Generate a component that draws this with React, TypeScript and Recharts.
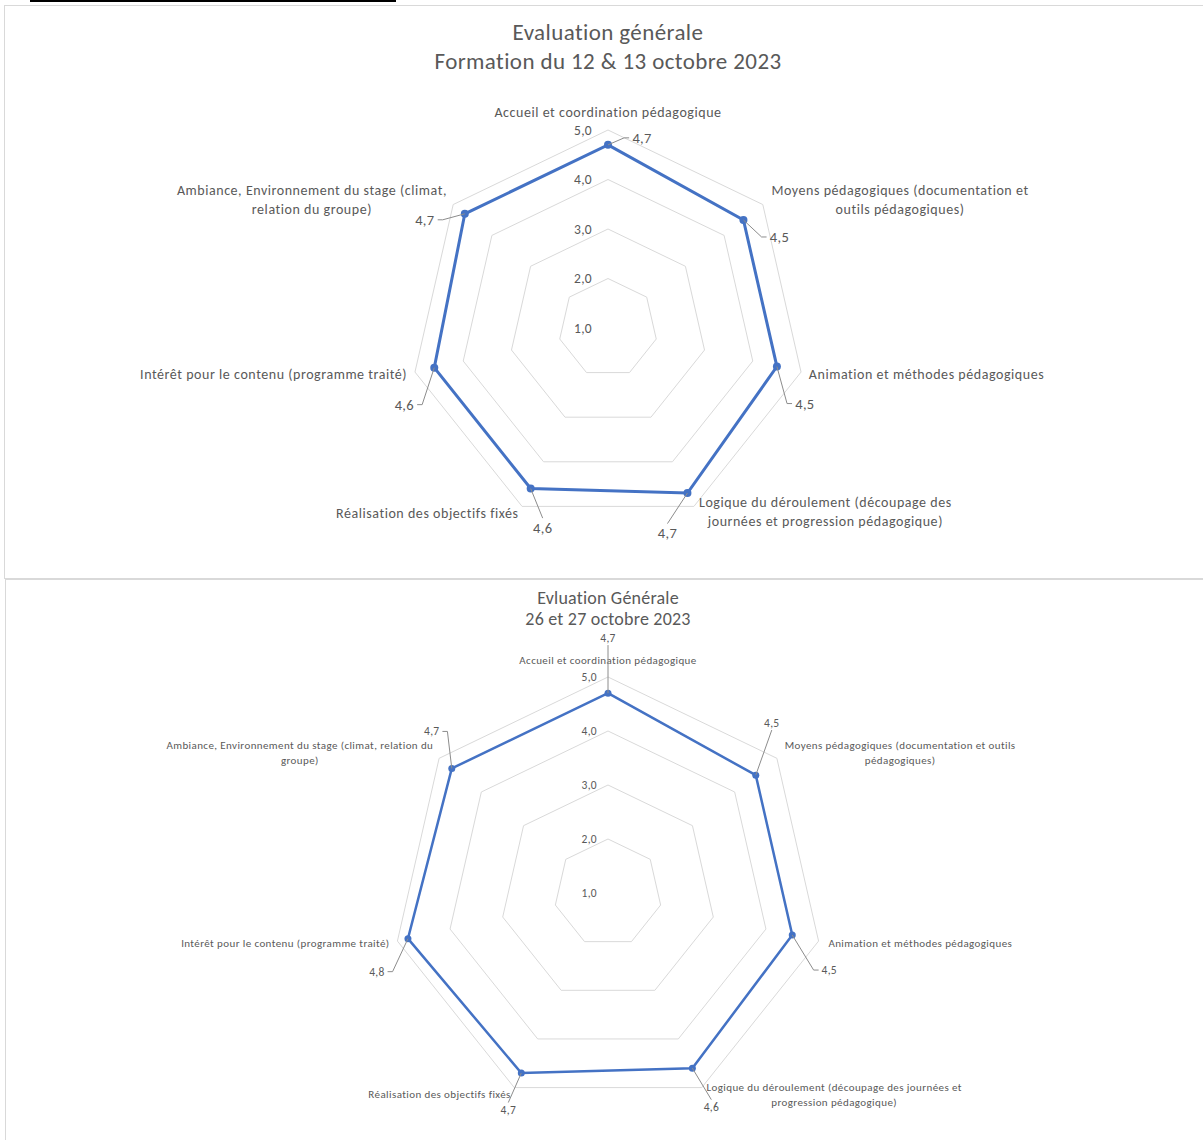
import React from 'react';
import { RadarChart, Radar, PolarGrid, PolarAngleAxis, PolarRadiusAxis } from 'recharts';

// criteria evaluated (same for both sessions)
const categories = [
  'Accueil et coordination pédagogique',
  'Moyens pédagogiques (documentation et outils pédagogiques)',
  'Animation et méthodes pédagogiques',
  'Logique du déroulement (découpage des journées et progression pédagogique)',
  'Réalisation des objectifs fixés',
  'Intérêt pour le contenu (programme traité)',
  'Ambiance, Environnement du stage (climat, relation du groupe)',
];

const scoresOct12 = [4.7, 4.5, 4.5, 4.7, 4.6, 4.6, 4.7];
const scoresOct26 = [4.7, 4.5, 4.5, 4.6, 4.7, 4.8, 4.7];

const radiusDomain = [1, 5];
const radiusTickCount = 5;

// wrapped tick labels, as Excel wraps them
const labelLinesOct12 = [
  ['Accueil et coordination pédagogique'],
  ['Moyens pédagogiques (documentation et', 'outils pédagogiques)'],
  ['Animation et méthodes pédagogiques'],
  ['Logique du déroulement (découpage des', 'journées et progression pédagogique)'],
  ['Réalisation des objectifs fixés'],
  ['Intérêt pour le contenu (programme traité)'],
  ['Ambiance, Environnement du stage (climat,', 'relation du groupe)'],
];

const labelLinesOct26 = [
  ['Accueil et coordination pédagogique'],
  ['Moyens pédagogiques (documentation et outils', 'pédagogiques)'],
  ['Animation et méthodes pédagogiques'],
  ['Logique du déroulement (découpage des journées et', 'progression pédagogique)'],
  ['Réalisation des objectifs fixés'],
  ['Intérêt pour le contenu (programme traité)'],
  ['Ambiance, Environnement du stage (climat, relation du', 'groupe)'],
];

const FONT = 'Calibri, Carlito, "Liberation Sans", Arial, sans-serif';
const GREY = '#595959';
const BLUE = '#4472C4';

const fmt = (v: number) => v.toFixed(1).replace('.', ',');

type Anchor = 'start' | 'middle' | 'end';
type Mode = 'right' | 'left' | 'above' | 'below';

interface ChartConfig {
  top: number;
  height: number;
  cx: number;
  cy: number;
  radius: number;
  titles: string[];
  titleSize: number;
  titleSpacing: number;
  titleTop: number;
  titleLineHeight: number;
  values: number[];
  lines: string[][];
  catFont: number;
  catSpacing: number;
  catLineHeight: number;
  catOffsets: [number, number, Anchor][];
  tickFont: number;
  tickGap: number;
  valueFont: number;
  valueOffsets: [number, number, Mode][];
  strokeWidth: number;
  dotR: number;
}

const oct12: ChartConfig = {
  top: 0,
  height: 578,
  cx: 608,
  cy: 328,
  radius: 198,
  titles: ['Evaluation générale', 'Formation du 12 & 13 octobre 2023'],
  titleSize: 23,
  titleSpacing: 0.4,
  titleTop: 18,
  titleLineHeight: 29,
  values: scoresOct12,
  lines: labelLinesOct12,
  catFont: 14,
  catSpacing: 0.55,
  catLineHeight: 19,
  catOffsets: [
    [0, -10, 'middle'],
    [131, -9, 'middle'],
    [0, 0, 'start'],
    [128, -11, 'middle'],
    [0, 0, 'end'],
    [0, 0, 'end'],
    [-135, -9, 'middle'],
  ],
  tickFont: 13.5,
  tickGap: 16,
  valueFont: 14.5,
  valueOffsets: [
    [34, -7, 'right'],
    [36, 17, 'right'],
    [28, 37, 'right'],
    [-20, 40, 'below'],
    [12, 39, 'below'],
    [-30, 37, 'left'],
    [-40, 6, 'left'],
  ],
  strokeWidth: 3,
  dotR: 4,
};

const oct26: ChartConfig = {
  top: 580,
  height: 560,
  cx: 608,
  cy: 313,
  radius: 216,
  titles: ['Evluation Générale', '26 et 27 octobre 2023'],
  titleSize: 18,
  titleSpacing: 0.2,
  titleTop: 588,
  titleLineHeight: 21,
  values: scoresOct26,
  lines: labelLinesOct26,
  catFont: 11,
  catSpacing: 0.4,
  catLineHeight: 15,
  catOffsets: [
    [0, -9, 'middle'],
    [117, -8, 'middle'],
    [2, 0, 'start'],
    [129, -8, 'middle'],
    [0, -1, 'end'],
    [0, 0, 'end'],
    [-133, -8, 'middle'],
  ],
  tickFont: 11.5,
  tickGap: 11,
  valueFont: 11.5,
  valueOffsets: [
    [0, -55, 'above'],
    [16, -52, 'above'],
    [37, 35, 'right'],
    [19, 39, 'below'],
    [-13, 37, 'below'],
    [-31, 33, 'left'],
    [-20, -37, 'left'],
  ],
  strokeWidth: 2.5,
  dotR: 3.5,
};

const EvalRadar = ({ cfg }: { cfg: ChartConfig }) => {
  const data = categories.map((name, i) => ({ name, score: cfg.values[i] }));

  const renderCategory = (p: any) => {
    const [dx, dy, anchor] = cfg.catOffsets[p.index];
    const x = p.x + dx;
    const lines = cfg.lines[p.index];
    return (
      <text
        x={x}
        y={p.y + dy}
        textAnchor={anchor}
        fill={GREY}
        fontSize={cfg.catFont}
        fontFamily={FONT}
        letterSpacing={cfg.catSpacing}
      >
        {lines.map((l, k) => (
          <tspan key={k} x={x} dy={k === 0 ? '0.35em' : cfg.catLineHeight}>
            {l}
          </tspan>
        ))}
      </text>
    );
  };

  const renderRadiusTick = (p: any) => (
    <text
      x={p.x - cfg.tickGap}
      y={p.y}
      dy="0.35em"
      textAnchor="end"
      fill={GREY}
      fontSize={cfg.tickFont}
      fontFamily={FONT}
      letterSpacing={0.3}
    >
      {fmt(Number(p.payload.value))}
    </text>
  );

  const renderDot = (p: any) => (
    <circle key={`d-${p.index}`} cx={p.cx} cy={p.cy} r={cfg.dotR} fill={BLUE} stroke="none" />
  );

  const renderValue = (p: any) => {
    const idx = p.index ?? categories.indexOf(p.payload?.name);
    if (idx == null || idx < 0) return null;
    const [dx, dy, mode] = cfg.valueOffsets[idx];
    const tx = p.x + dx;
    const ty = p.y + dy;
    const half = cfg.valueFont * 0.75;
    let pts: number[][];
    if (mode === 'right') pts = [[p.x, p.y], [tx - half - 7, ty], [tx - half - 2, ty]];
    else if (mode === 'left') pts = [[p.x, p.y], [tx + half + 7, ty], [tx + half + 2, ty]];
    else if (mode === 'above') pts = [[p.x, p.y], [tx, ty + cfg.valueFont * 0.6]];
    else pts = [[p.x, p.y], [tx, ty - cfg.valueFont * 0.65]];
    return (
      <g key={`v-${idx}`}>
        <polyline points={pts.map((q) => q.join(',')).join(' ')} fill="none" stroke="#8c8c8c" strokeWidth={1} />
        <text
          x={tx}
          y={ty}
          dy="0.35em"
          textAnchor="middle"
          fill={GREY}
          fontSize={cfg.valueFont}
          fontFamily={FONT}
          letterSpacing={0.3}
        >
          {fmt(Number(p.value))}
        </text>
      </g>
    );
  };

  return (
    <div style={{ position: 'absolute', left: 0, top: cfg.top }}>
      <RadarChart
        width={1203}
        height={cfg.height}
        data={data}
        cx={cfg.cx}
        cy={cfg.cy}
        outerRadius={cfg.radius}
        margin={{ top: 0, right: 0, bottom: 0, left: 0 }}
      >
        <PolarGrid gridType="polygon" radialLines={false} stroke="#d9d9d9" />
        <PolarAngleAxis dataKey="name" axisLine={false} tickLine={false} tick={renderCategory} />
        <PolarRadiusAxis
          angle={90}
          domain={radiusDomain}
          tickCount={radiusTickCount}
          axisLine={false}
          tickLine={false}
          tick={renderRadiusTick}
        />
        <Radar
          dataKey="score"
          stroke={BLUE}
          strokeWidth={cfg.strokeWidth}
          fill="none"
          fillOpacity={0}
          dot={renderDot}
          label={renderValue}
          isAnimationActive={false}
        />
      </RadarChart>
    </div>
  );
};

const Title = ({ cfg }: { cfg: ChartConfig }) => (
  <div
    style={{
      position: 'absolute',
      left: 0,
      top: cfg.titleTop,
      width: 1216,
      textAlign: 'center',
      color: GREY,
      fontFamily: FONT,
      fontSize: cfg.titleSize,
      letterSpacing: cfg.titleSpacing,
      lineHeight: `${cfg.titleLineHeight}px`,
    }}
  >
    {cfg.titles.map((t) => (
      <div key={t}>{t}</div>
    ))}
  </div>
);

const App = () => (
  <div
    style={{
      position: 'absolute',
      left: 0,
      top: 0,
      width: 1203,
      height: 1140,
      overflow: 'hidden',
      background: '#fff',
    }}
  >
    <div style={{ position: 'absolute', left: 30, top: 0, width: 366, height: 2, background: '#000' }} />
    <div style={{ position: 'absolute', left: 4, top: 5, width: 1240, height: 572, border: '1px solid #d9d9d9' }} />
    <div style={{ position: 'absolute', left: 5, top: 579, width: 1240, height: 600, border: '1px solid #d9d9d9' }} />
    <EvalRadar cfg={oct12} />
    <EvalRadar cfg={oct26} />
    <Title cfg={oct12} />
    <Title cfg={oct26} />
  </div>
);

export default App;
